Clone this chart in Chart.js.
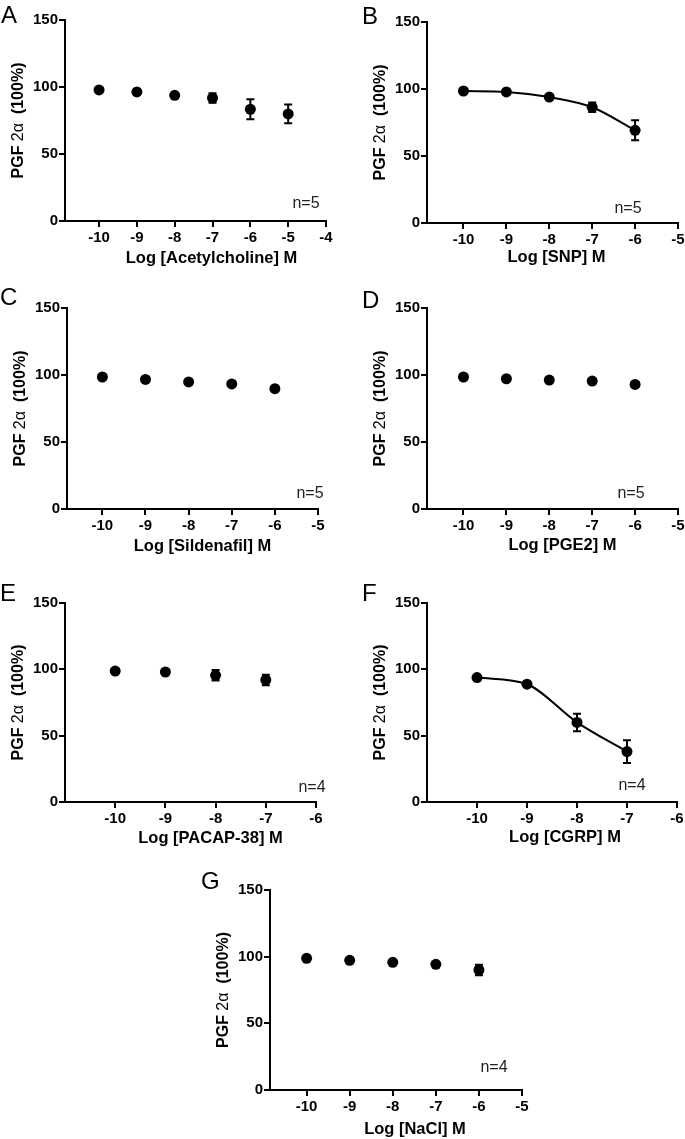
<!DOCTYPE html>
<html><head><meta charset="utf-8">
<script src="https://cdn.jsdelivr.net/npm/chart.js@4"></script>
<style>
html,body{margin:0;padding:0;background:#fff;}
body{width:685px;height:1139px;position:relative;overflow:hidden;font-family:"Liberation Sans",Arial,sans-serif;}
canvas{position:absolute;}
.lab{position:absolute;font-size:24px;line-height:24px;color:#000;}
.n{position:absolute;font-size:16px;line-height:16px;color:#222;transform:translateX(-50%);white-space:nowrap;}
</style></head><body>
<script>
// ---- data ----
const yTicks = [0, 50, 100, 150];
const yTitleParts = [['PGF ', 'bold'], ['2α', 'normal'], ['  (100%)', 'bold']];

const xTicksA = [-10, -9, -8, -7, -6, -5, -4];
const concA = [-10, -9, -8, -7, -6, -5];
const meanA = [97.8, 96.3, 93.8, 91.8, 83.4, 79.9];
const semA  = [1, 1, 1, 3.5, 7.5, 7];

const xTicksB = [-10, -9, -8, -7, -6, -5];
const concB = [-10, -9, -8, -7, -6];
const meanB = [98.5, 97.8, 94, 86.4, 69.2];
const semB  = [1, 1, 1.5, 3.5, 7.5];

const xTicksC = [-10, -9, -8, -7, -6, -5];
const concC = [-10, -9, -8, -7, -6];
const meanC = [98.5, 96.7, 94.8, 93.3, 89.8];
const semC  = [1, 1, 1, 1, 1];

const xTicksD = [-10, -9, -8, -7, -6, -5];
const concD = [-10, -9, -8, -7, -6];
const meanD = [98.5, 97.2, 96.2, 95.5, 93];
const semD  = [1, 1, 1, 1, 1];

const xTicksE = [-10, -9, -8, -7, -6];
const concE = [-10, -9, -8, -7];
const meanE = [98.7, 98, 95.5, 92];
const semE  = [1, 1, 4, 4];

const xTicksF = [-10, -9, -8, -7, -6];
const concF = [-10, -9, -8, -7];
const meanF = [93.8, 88.8, 60, 38];
const semF  = [1.5, 1.5, 6.6, 8.6];

const xTicksG = [-10, -9, -8, -7, -6, -5];
const concG = [-10, -9, -8, -7, -6];
const meanG = [98.8, 97.3, 95.8, 94.3, 90];
const semG  = [1, 1, 1, 1, 4];

const xTitles = ['Log [Acetylcholine] M', 'Log [SNP] M', 'Log [Sildenafil] M', 'Log [PGE2] M',
                 'Log [PACAP-38] M', 'Log [CGRP] M', 'Log [NaCl] M'];
const letters = ['A', 'B', 'C', 'D', 'E', 'F', 'G'];
const nLabels = ['n=5', 'n=5', 'n=5', 'n=5', 'n=4', 'n=4', 'n=4'];

// ---- layout (page pixels) ----
const panels = [
  {L:65, R:326, T:20,  B:221, xmin:-10.9,  xmax:-4, ticks:xTicksA, conc:concA, mean:meanA, sem:semA, fit:false, tdx:16, tdy:37, let:[1,3],   n:[306,208.5]},
  {L:427,R:678, T:22,  B:223, xmin:-10.85, xmax:-5, ticks:xTicksB, conc:concB, mean:meanB, sem:semB, fit:true,  tdx:4,  tdy:34, let:[362,4], n:[628,213.5]},
  {L:67, R:318, T:308, B:509, xmin:-10.82, xmax:-5, ticks:xTicksC, conc:concC, mean:meanC, sem:semC, fit:false, tdx:10, tdy:37, let:[0,285], n:[310,498.5]},
  {L:427,R:678, T:308, B:509, xmin:-10.85, xmax:-5, ticks:xTicksD, conc:concD, mean:meanD, sem:semD, fit:false, tdx:10, tdy:36, let:[362,288],n:[631,498.5]},
  {L:65, R:316, T:603, B:802, xmin:-11,    xmax:-6, ticks:xTicksE, conc:concE, mean:meanE, sem:semE, fit:false, tdx:20, tdy:36, let:[0,581], n:[312,792]},
  {L:427,R:677, T:603, B:802, xmin:-11,    xmax:-6, ticks:xTicksF, conc:concF, mean:meanF, sem:semF, fit:true,  tdx:13, tdy:35, let:[362,581],n:[632,790.5]},
  {L:270,R:522, T:890, B:1090,xmin:-10.85, xmax:-5, ticks:xTicksG, conc:concG, mean:meanG, sem:semG, fit:false, tdx:19, tdy:39, let:[201,869],n:[494,1072]},
];

const FONT = '"Liberation Sans", Arial, sans-serif';
const PAD_TOP = 20, PAD_RIGHT = 14, YW = 62, XH = 49;

const errorBars = {
  id: 'errorBars',
  afterDatasetsDraw(chart, args, opts) {
    const {ctx} = chart, x = chart.scales.x, y = chart.scales.y;
    const ds = chart.data.datasets[0];
    ctx.save(); ctx.strokeStyle = '#000'; ctx.lineWidth = 2;
    ds.data.forEach((p, i) => {
      const e = opts.values[i]; if (!e) return;
      const px = x.getPixelForValue(p.x);
      const t = y.getPixelForValue(p.y + e), b = y.getPixelForValue(p.y - e);
      ctx.beginPath();
      ctx.moveTo(px, t); ctx.lineTo(px, b);
      ctx.moveTo(px - 4, t); ctx.lineTo(px + 4, t);
      ctx.moveTo(px - 4, b); ctx.lineTo(px + 4, b);
      ctx.stroke();
    });
    ctx.restore();
  }
};

const axisTitles = {
  id: 'axisTitles',
  afterDraw(chart, args, opts) {
    const {ctx, chartArea: a} = chart;
    ctx.save();
    ctx.fillStyle = '#000';
    // x title
    ctx.font = 'bold 16.5px ' + FONT;
    ctx.textAlign = 'center'; ctx.textBaseline = 'middle';
    ctx.fillText(opts.xText, (a.left + a.right) / 2 + opts.dx, a.bottom + opts.dy);
    // y title (mixed weights)
    const widths = yTitleParts.map(([t, w]) => { ctx.font = w + ' 16px ' + FONT; return ctx.measureText(t).width; });
    const total = widths.reduce((s, v) => s + v, 0);
    ctx.translate(a.left - 46, (a.top + a.bottom) / 2);
    ctx.rotate(-Math.PI / 2);
    ctx.textAlign = 'left';
    let cx = -total / 2;
    yTitleParts.forEach(([t, w], i) => { ctx.font = w + ' 16px ' + FONT; ctx.fillText(t, cx, 0); cx += widths[i]; });
    ctx.restore();
  }
};

panels.forEach((p, i) => {
  const cv = document.createElement('canvas');
  const left = p.L - YW, top = p.T - PAD_TOP;
  const w = p.R + PAD_RIGHT - left, h = p.B + XH - top;
  cv.width = w; cv.height = h;
  cv.style.left = left + 'px'; cv.style.top = top + 'px';
  cv.style.width = w + 'px'; cv.style.height = h + 'px';
  document.body.appendChild(cv);

  const lab = document.createElement('div');
  lab.className = 'lab'; lab.textContent = letters[i];
  lab.style.left = p.let[0] + 'px'; lab.style.top = p.let[1] + 'px';
  document.body.appendChild(lab);

  const n = document.createElement('div');
  n.className = 'n'; n.textContent = nLabels[i];
  n.style.left = p.n[0] + 'px'; n.style.top = (p.n[1] - 13.5) + 'px';
  document.body.appendChild(n);

  const tickFont = {family: FONT, size: 15, weight: 'bold'};
  new Chart(cv, {
    type: 'line',
    data: {datasets: [{
      data: p.conc.map((x, k) => ({x: x, y: p.mean[k]})),
      showLine: p.fit, borderColor: '#000', borderWidth: 2,
      cubicInterpolationMode: 'monotone', fill: false,
      pointRadius: 5.5, pointBackgroundColor: '#000', pointBorderColor: '#000', pointBorderWidth: 0,
      clip: false
    }]},
    options: {
      responsive: false, animation: false, devicePixelRatio: 1,
      layout: {padding: {top: PAD_TOP, right: PAD_RIGHT, left: 0, bottom: 0}},
      plugins: {
        legend: {display: false}, tooltip: {enabled: false},
        errorBars: {values: p.sem},
        axisTitles: {xText: xTitles[i], dx: p.tdx, dy: p.tdy}
      },
      scales: {
        x: {
          type: 'linear', min: p.xmin, max: p.xmax,
          afterBuildTicks: s => { s.ticks = p.ticks.map(v => ({value: v})); },
          afterFit: s => { s.height = XH; },
          ticks: {font: tickFont, color: '#000', padding: 2, autoSkip: false, maxRotation: 0, callback: v => String(v)},
          grid: {drawOnChartArea: false, color: '#000', lineWidth: 2, tickLength: 6},
          border: {color: '#000', width: 2}
        },
        y: {
          type: 'linear', min: 0, max: 150,
          afterBuildTicks: s => { s.ticks = yTicks.map(v => ({value: v})); },
          afterFit: s => { s.width = YW; },
          ticks: {font: tickFont, color: '#000', padding: 1, callback: v => String(v)},
          grid: {drawOnChartArea: false, color: '#000', lineWidth: 2, tickLength: 6},
          border: {color: '#000', width: 2}
        }
      }
    },
    plugins: [errorBars, axisTitles]
  });
});
</script>
</body></html>
